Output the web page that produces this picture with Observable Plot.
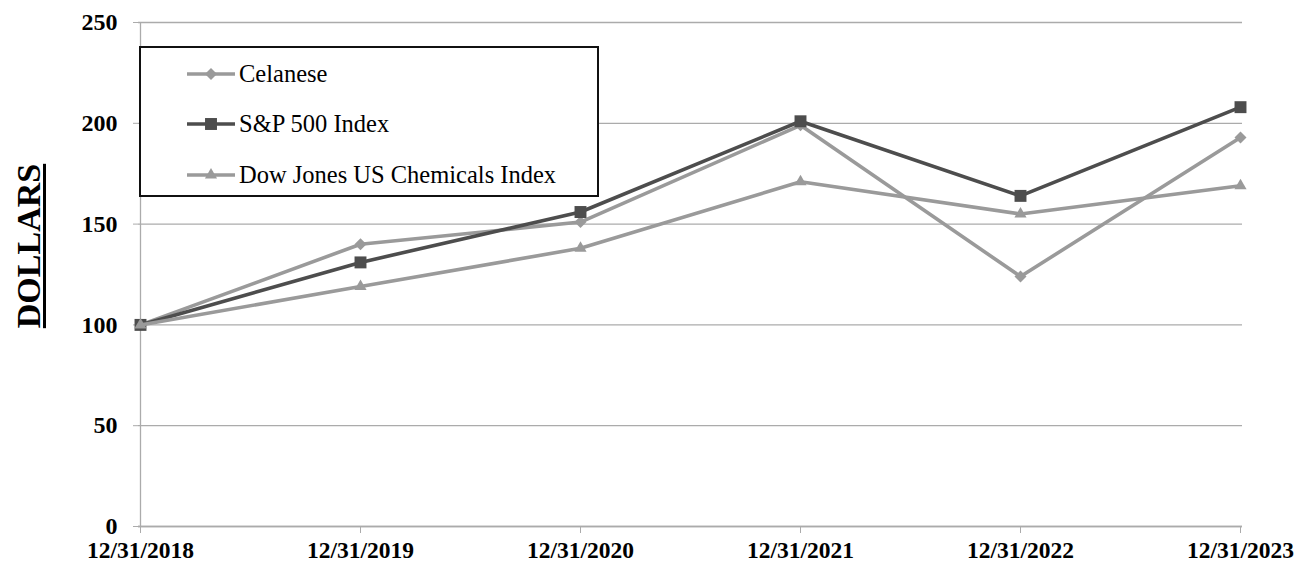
<!DOCTYPE html>
<html>
<head>
<meta charset="utf-8">
<script src="https://cdn.jsdelivr.net/npm/d3@7"></script>
<script src="https://cdn.jsdelivr.net/npm/@observablehq/plot@0.6"></script>
<style>
  html, body { margin: 0; padding: 0; background: #fff; }
  #wrap { position: relative; width: 1299px; height: 564px; overflow: hidden; font-family: "Liberation Serif", "Times New Roman", serif; }
  #ylabel { position: absolute; left: 29px; top: 246px; transform: translate(-50%, -50%) rotate(-90deg); font-family: "Liberation Serif", serif; font-size: 34px; font-weight: bold; text-decoration: underline; text-decoration-thickness: 3px; text-underline-offset: 3px; white-space: nowrap; color: #000; }
  #legend { position: absolute; left: 139px; top: 46px; width: 456px; height: 147px; border: 2px solid #111; background: #fff; }
  .lg { position: absolute; left: 46px; height: 30px; display: flex; align-items: center; font-family: "Liberation Serif", serif; font-size: 24.5px; color: #000; white-space: nowrap; }
  .lg svg { margin-right: 4px; }
</style>
</head>
<body>
<div id="wrap">
  <div id="chart"></div>
  <div id="ylabel">DOLLARS</div>
  <div id="legend"></div>
</div>
<script>
const dates = ["12/31/2018", "12/31/2019", "12/31/2020", "12/31/2021", "12/31/2022", "12/31/2023"];
const celanese = [100, 140, 151, 199, 124, 193];
const sp500 = [100, 131, 156, 201, 164, 208];
const dowChem = [100, 119, 138, 171, 155, 169];
const yTicks = [0, 50, 100, 150, 200, 250];
const seriesNames = ["Celanese", "S&P 500 Index", "Dow Jones US Chemicals Index"];
const seriesColors = ["#9a9a9a", "#4d4d4d", "#9a9a9a"];
const seriesSymbols = ["diamond2", "square2", "triangle2"];
const seriesR = [5.4, 7.6, 5.8];
const seriesValues = [celanese, sp500, dowChem];

const table = seriesNames.map((name, i) => dates.map((d, j) => ({date: d, value: seriesValues[i][j], series: name})));

const marks = [
  Plot.gridY(yTicks, {stroke: "#ababab", strokeOpacity: 1, strokeWidth: 1.3}),
  Plot.ruleY([0], {stroke: "#ababab", strokeWidth: 1.3}),
  Plot.ruleX([dates[0]], {y1: 0, y2: 250, stroke: "#ababab", strokeWidth: 1.3}),
  Plot.axisY(yTicks, {tickSize: 5, tickPadding: 16, stroke: "#ababab", fill: "#000"}),
  Plot.axisX(dates, {tickSize: 7, tickPadding: 8, fontSize: 23.5, stroke: "#ababab", fill: "#000"})
];
table.forEach((rows, i) => {
  marks.push(Plot.line(rows, {x: "date", y: "value", stroke: seriesColors[i], strokeWidth: 3.6}));
  marks.push(Plot.dot(rows, {x: "date", y: "value", symbol: seriesSymbols[i], r: seriesR[i], fill: seriesColors[i], stroke: "none"}));
});

const chart = Plot.plot({
  width: 1299,
  height: 564,
  marginLeft: 138,
  marginRight: 57,
  marginTop: 22,
  marginBottom: 38,
  style: {fontFamily: "Liberation Serif, Times New Roman, serif", fontSize: "24px", fontWeight: "bold", background: "#fff", overflow: "visible"},
  x: {type: "point", domain: dates, padding: 0, label: null, axis: null},
  y: {domain: [0, 250], label: null, axis: null},
  marks
});
document.getElementById("chart").appendChild(chart);

// legend
const legend = document.getElementById("legend");
const rowTops = [11, 61, 112];
seriesNames.forEach((name, i) => {
  const row = document.createElement("div");
  row.className = "lg";
  row.style.top = rowTops[i] + "px";
  const sym = d3.symbol(d3[{diamond2: "symbolDiamond2", square2: "symbolSquare2", triangle2: "symbolTriangle2"}[seriesSymbols[i]]], Math.PI * seriesR[i] * seriesR[i])();
  row.innerHTML = `<svg width="48" height="30"><line x1="0" x2="48" y1="15" y2="15" stroke="${seriesColors[i]}" stroke-width="3.6"/><path transform="translate(24,15)" d="${sym}" fill="${seriesColors[i]}"/></svg><span></span>`;
  row.querySelector("span").textContent = name;
  legend.appendChild(row);
});
</script>
</body>
</html>
